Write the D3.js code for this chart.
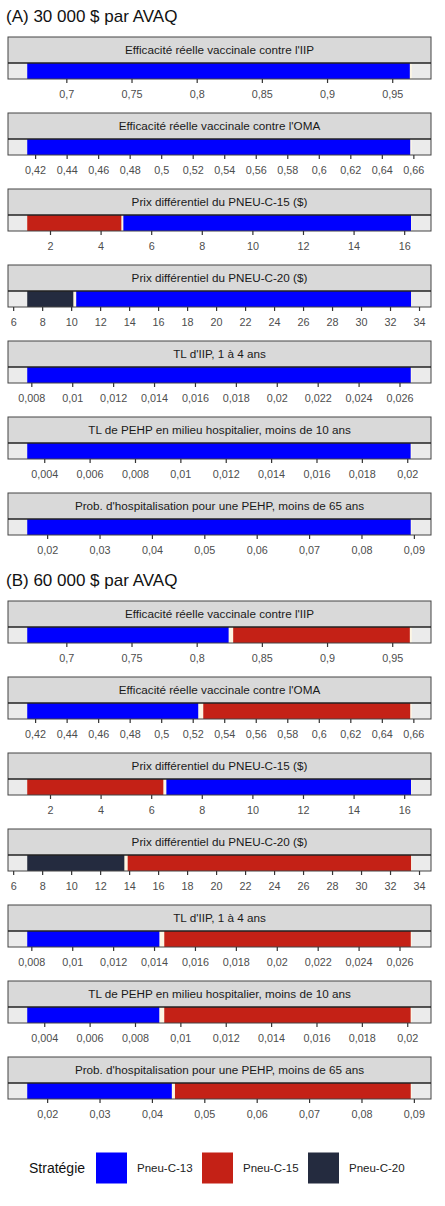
<!DOCTYPE html>
<html>
<head>
<meta charset="utf-8">
<script src="https://cdn.jsdelivr.net/npm/d3@7"></script>
<style>
  body { margin: 0; background: #fff; }
  svg { display: block; font-family: "Liberation Sans", Arial, sans-serif; }
</style>
</head>
<body>
<div id="chart"></div>
<script>
// paramètres (un panneau par paramètre)
const parametres = [
  "Efficacité réelle vaccinale contre l'IIP",
  "Efficacité réelle vaccinale contre l'OMA",
  "Prix différentiel du PNEU-C-15 ($)",
  "Prix différentiel du PNEU-C-20 ($)",
  "TL d'IIP, 1 à 4 ans",
  "TL de PEHP en milieu hospitalier, moins de 10 ans",
  "Prob. d'hospitalisation pour une PEHP, moins de 65 ans"
];

// étendue de chaque paramètre
const bornesMin = [0.67, 0.415, 1.1, 6.97, 0.0078, 0.00325, 0.0162];
const bornesMax = [0.965, 0.659, 16.3, 33.5, 0.0266, 0.0202, 0.0896];

const graduations = [
  [0.7, 0.75, 0.8, 0.85, 0.9, 0.95],
  [0.42, 0.44, 0.46, 0.48, 0.5, 0.52, 0.54, 0.56, 0.58, 0.6, 0.62, 0.64, 0.66],
  [2, 4, 6, 8, 10, 12, 14, 16],
  [6, 8, 10, 12, 14, 16, 18, 20, 22, 24, 26, 28, 30, 32, 34],
  [0.008, 0.01, 0.012, 0.014, 0.016, 0.018, 0.02, 0.022, 0.024, 0.026],
  [0.004, 0.006, 0.008, 0.01, 0.012, 0.014, 0.016, 0.018, 0.02],
  [0.02, 0.03, 0.04, 0.05, 0.06, 0.07, 0.08, 0.09]
];

// stratégie optimale : [stratégie, de, à]
const segmentsA = [
  [["Pneu-C-13", 0.67, 0.9635]],
  [["Pneu-C-13", 0.415, 0.658]],
  [["Pneu-C-15", 1.1, 4.82], ["Pneu-C-13", 4.9, 16.27]],
  [["Pneu-C-20", 6.97, 10.15], ["Pneu-C-13", 10.35, 33.45]],
  [["Pneu-C-13", 0.0078, 0.02655]],
  [["Pneu-C-13", 0.00325, 0.02015]],
  [["Pneu-C-13", 0.0162, 0.0894]]
];
const segmentsB = [
  [["Pneu-C-13", 0.67, 0.8245], ["Pneu-C-15", 0.828, 0.9635]],
  [["Pneu-C-13", 0.415, 0.5235], ["Pneu-C-15", 0.5267, 0.658]],
  [["Pneu-C-15", 1.1, 6.48], ["Pneu-C-13", 6.6, 16.27]],
  [["Pneu-C-20", 6.97, 13.67], ["Pneu-C-15", 13.9, 33.45]],
  [["Pneu-C-13", 0.0078, 0.01426], ["Pneu-C-15", 0.0145, 0.02655]],
  [["Pneu-C-13", 0.00325, 0.00907], ["Pneu-C-15", 0.00929, 0.02015]],
  [["Pneu-C-13", 0.0162, 0.0438], ["Pneu-C-15", 0.0444, 0.0894]]
];

const sections = ["(A) 30 000 $ par AVAQ", "(B) 60 000 $ par AVAQ"];
const strategies = ["Pneu-C-13", "Pneu-C-15", "Pneu-C-20"];
const couleurs = ["#0000ff", "#c42116", "#242b3f"];

const width = 445, height = 1206;
const left = 8, right = 431;
const stripH = 26, barH = 16, pitch = 76;
const firstPanel = 37, sectionGap = 564;

const color = d3.scaleOrdinal().domain(strategies).range(couleurs);
const fr = d3.formatLocale({ decimal: ",", thousands: " ", grouping: [3], currency: ["", " $"] });
const fmt = fr.format("~g");

const svg = d3.select("#chart").append("svg")
  .attr("width", width)
  .attr("height", height);

svg.append("rect").attr("width", width).attr("height", height).attr("fill", "#fff");

[segmentsA, segmentsB].forEach((segments, s) => {
  const top = s * sectionGap;

  svg.append("text")
    .attr("x", 6)
    .attr("y", top + 22)
    .attr("font-size", 17)
    .attr("fill", "#111")
    .text(sections[s]);

  parametres.forEach((p, i) => {
    const y0 = top + firstPanel + i * pitch;
    const pad = (bornesMax[i] - bornesMin[i]) * 0.05;
    const x = d3.scaleLinear()
      .domain([bornesMin[i] - pad, bornesMax[i] + pad])
      .range([left, right]);

    const g = svg.append("g").attr("transform", `translate(0, ${y0})`);

    // bandeau titre
    g.append("rect")
      .attr("x", left).attr("y", 0)
      .attr("width", right - left).attr("height", stripH)
      .attr("fill", "#d9d9d9");
    g.append("text")
      .attr("x", (left + right) / 2)
      .attr("y", stripH / 2 + 4)
      .attr("text-anchor", "middle")
      .attr("font-size", 11.7)
      .attr("fill", "#1a1a1a")
      .text(p);

    // fond du panneau
    g.append("rect")
      .attr("x", left).attr("y", stripH)
      .attr("width", right - left).attr("height", barH)
      .attr("fill", "#ebebeb");
    g.append("rect")
      .attr("x", x(bornesMin[i])).attr("y", stripH)
      .attr("width", x(bornesMax[i]) - x(bornesMin[i])).attr("height", barH)
      .attr("fill", "#fdf6e4");

    g.selectAll("rect.seg")
      .data(segments[i])
      .join("rect")
      .attr("class", "seg")
      .attr("x", d => x(d[1]))
      .attr("y", stripH)
      .attr("width", d => x(d[2]) - x(d[1]))
      .attr("height", barH)
      .attr("fill", d => color(d[0]));

    // bordures
    g.append("rect")
      .attr("x", left).attr("y", 0)
      .attr("width", right - left).attr("height", stripH + barH)
      .attr("fill", "none")
      .attr("stroke", "#444")
      .attr("stroke-width", 1);
    g.append("line")
      .attr("x1", left).attr("x2", right)
      .attr("y1", stripH).attr("y2", stripH)
      .attr("stroke", "#222")
      .attr("stroke-width", 1.3);

    // axe
    const axis = g.append("g")
      .attr("transform", `translate(0, ${stripH + barH})`)
      .call(d3.axisBottom(x).tickValues(graduations[i]).tickFormat(fmt).tickSize(4).tickPadding(7));
    axis.select(".domain").remove();
    axis.selectAll(".tick line").attr("stroke", "#333").attr("stroke-width", 1.2);
    axis.selectAll(".tick text")
      .attr("fill", "#4d4d4d")
      .attr("font-size", 10.8)
      .attr("font-family", "Liberation Sans, Arial, sans-serif");
  });
});

// légende
const leg = svg.append("g").attr("transform", "translate(0, 1168)");
leg.append("text")
  .attr("x", 29).attr("y", 5)
  .attr("font-size", 14)
  .attr("fill", "#111")
  .text("Stratégie");

const items = leg.selectAll("g.item")
  .data(strategies)
  .join("g")
  .attr("class", "item")
  .attr("transform", (d, i) => `translate(${96 + i * 106}, 0)`);
items.append("rect")
  .attr("x", 0).attr("y", -15.5)
  .attr("width", 31).attr("height", 31)
  .attr("fill", d => color(d));
items.append("text")
  .attr("x", 41).attr("y", 4)
  .attr("font-size", 11.5)
  .attr("fill", "#222")
  .text(d => d);
</script>
</body>
</html>
